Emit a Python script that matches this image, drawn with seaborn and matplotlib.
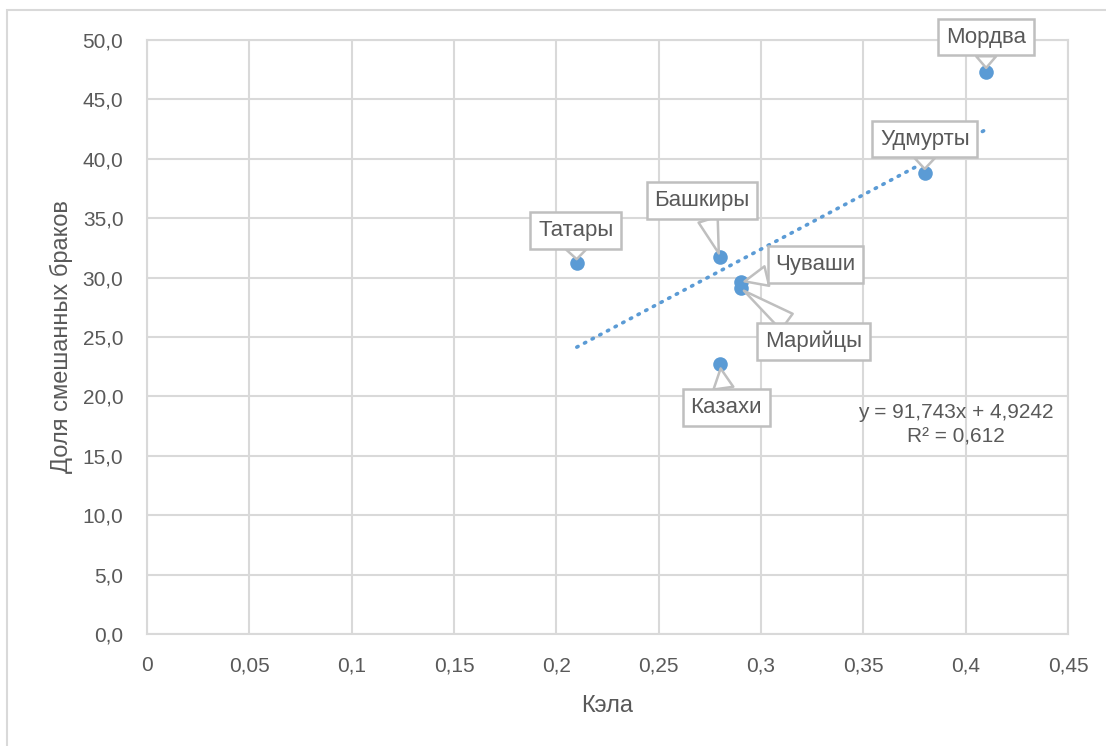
import matplotlib
matplotlib.use("Agg")
import matplotlib.pyplot as plt
import seaborn as sns
import numpy as np
import pandas as pd
from matplotlib.patches import Rectangle
from matplotlib.ticker import FuncFormatter, MultipleLocator

# ---- data ----
peoples = ["Татары", "Башкиры", "Казахи", "Чуваши", "Марийцы", "Удмурты", "Мордва"]
kela = [0.21, 0.28, 0.28, 0.29, 0.29, 0.38, 0.41]
mixed_share = [31.2, 31.7, 22.7, 29.6, 29.1, 38.8, 47.3]
trend_equation = "y = 91,743x + 4,9242"
trend_r2 = "R² = 0,612"

# label offsets (layout, in pixels)
label_offsets = {
    "Татары": (-1, 33),
    "Башкиры": (-18, 57),
    "Казахи": (6, -43),
    "Чуваши": (75, 18),
    "Марийцы": (73, -53),
    "Удмурты": (0, 34),
    "Мордва": (0, 35),
}

df = pd.DataFrame({"people": peoples, "x": kela, "y": mixed_share})

sns.set_style("white")
plt.rcParams['font.family'] = ['Liberation Sans', 'DejaVu Sans']

TXT = "#595959"
GRID = "#D9D9D9"
BLUE = "#5B9BD5"
BOXEC = "#BFBFBF"

fig = plt.figure(figsize=(11.06, 7.46), dpi=100)
ax = fig.add_axes([147/1106, 1-634/746, (1068-147)/1106, (634-40)/746])

# outer chart border
fig.patches.append(Rectangle((7/1106, -0.1), 1.2, (746-10)/746 + 0.1,
                             transform=fig.transFigure, fill=False,
                             ec=GRID, lw=1.5, zorder=0))

sns.regplot(data=df, x="x", y="y", ax=ax, scatter=False, ci=None, truncate=True,
            line_kws=dict(color=BLUE, lw=2.6, linestyle=(0, (0.4, 2.0)),
                          dash_capstyle="round", zorder=2))
sns.scatterplot(data=df, x="x", y="y", ax=ax, s=110, color=BLUE,
                edgecolor=BLUE, linewidth=0, zorder=4)

ax.set_xlim(0, 0.45)
ax.set_ylim(0, 50)
ax.xaxis.set_major_locator(MultipleLocator(0.05))
ax.yaxis.set_major_locator(MultipleLocator(5))

def xfmt(v, p):
    s = f"{v:.2f}".rstrip("0").rstrip(".")
    return s.replace(".", ",")

ax.xaxis.set_major_formatter(FuncFormatter(xfmt))
ax.yaxis.set_major_formatter(FuncFormatter(lambda v, p: f"{v:.1f}".replace(".", ",")))

ax.grid(True, color=GRID, lw=1.5, zorder=0)
ax.set_axisbelow(True)
for sp in ax.spines.values():
    sp.set_color(GRID)
    sp.set_linewidth(1.5)
ax.tick_params(axis="both", length=0, labelsize=15, colors=TXT)
ax.tick_params(axis="y", pad=17)
ax.tick_params(axis="x", pad=16)

ax.set_xlabel("Кэла", fontsize=17, color=TXT, labelpad=14)
ax.set_ylabel("Доля смешанных браков", fontsize=17, color=TXT, labelpad=7)

# data labels (callouts)
for name, xv, yv in zip(peoples, kela, mixed_share):
    dx, dy = label_offsets[name]
    ax.annotate(name, xy=(xv, yv), xytext=(dx, dy), textcoords="offset pixels",
                ha="center", va="center", fontsize=16, color=TXT, zorder=5,
                bbox=dict(boxstyle="square,pad=0.35", fc="white", ec=BOXEC, lw=1.8),
                arrowprops=dict(arrowstyle="wedge,tail_width=0.9,shrink_factor=0.5",
                                fc="white", ec=BOXEC, lw=1.8,
                                shrinkA=0, shrinkB=3))

# trendline equation
ax.text(0.3950, 17.6, trend_equation + "\n" + trend_r2, ha="center", va="center",
        fontsize=15, color=TXT, linespacing=1.4, zorder=3)

fig.savefig("out.png", dpi=100)
